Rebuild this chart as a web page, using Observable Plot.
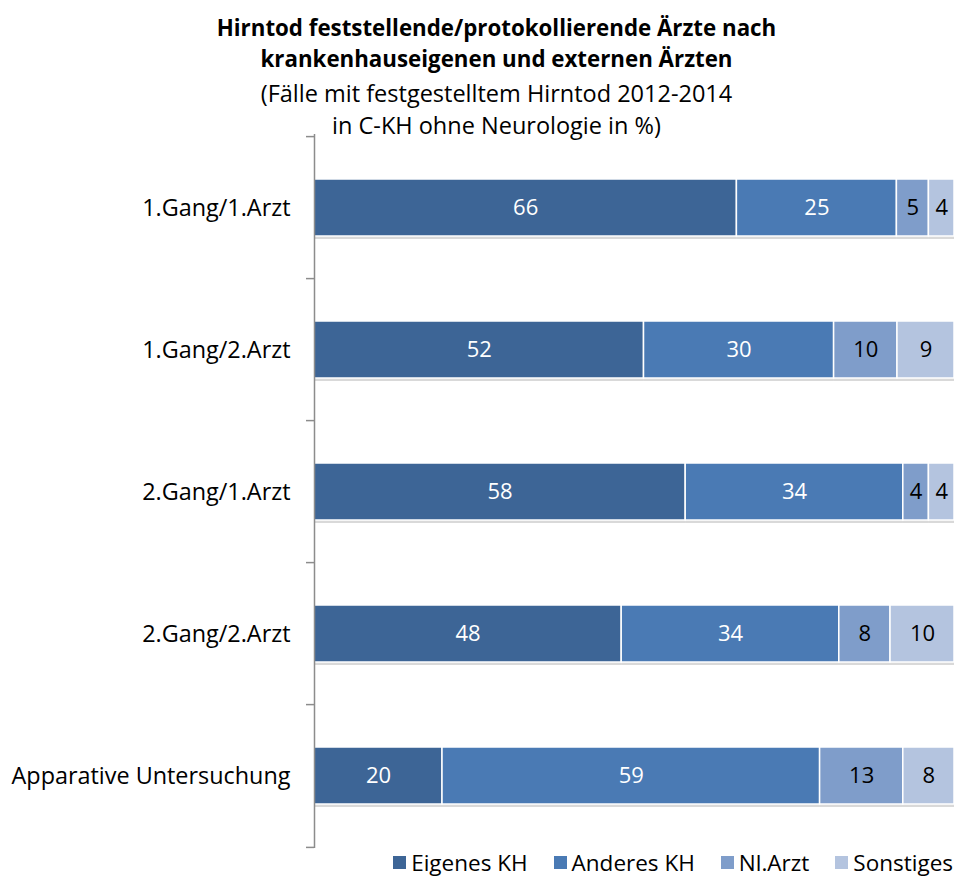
<!DOCTYPE html>
<html><head><meta charset="utf-8">
<script src="https://cdn.jsdelivr.net/npm/d3@7"></script>
<script src="https://cdn.jsdelivr.net/npm/@observablehq/plot@0.6"></script>
<style>
body{margin:0;width:955px;height:880px;overflow:hidden;background:#fff;font-family:"Open Sans",sans-serif;position:relative;color:#000}
#title{position:absolute;left:38px;width:917px;top:12px;text-align:center;font-weight:bold;font-size:22.3px;line-height:31px}
#subtitle{position:absolute;left:38px;width:917px;top:77px;text-align:center;font-size:23.5px;line-height:32px}
#chart{position:absolute;left:0;top:130px}
#legend{position:absolute;right:2px;top:849px;display:flex;align-items:center;font-size:22.5px;line-height:27px;white-space:nowrap}
#legend .item{display:flex;align-items:center;margin-left:26px}
#legend .sw{width:13px;height:13px;margin-right:5px}
</style></head><body>
<div id="title">Hirntod feststellende/protokollierende Ärzte nach<br>krankenhauseigenen und externen Ärzten</div>
<div id="subtitle">(Fälle mit festgestelltem Hirntod 2012-2014<br>in C-KH ohne Neurologie in %)</div>
<div id="chart"></div>
<div id="legend"></div>
<script>
const categories = ["1.Gang/1.Arzt", "1.Gang/2.Arzt", "2.Gang/1.Arzt", "2.Gang/2.Arzt", "Apparative Untersuchung"];
const series = ["Eigenes KH", "Anderes KH", "Nl.Arzt", "Sonstiges"];
const colors = ["#3D6596", "#4A7AB4", "#7F9DCA", "#B4C4DF"];
const eigenesKH = [66, 52, 58, 48, 20];
const anderesKH = [25, 30, 34, 34, 59];
const nlArzt = [5, 10, 4, 8, 13];
const sonstiges = [4, 9, 4, 10, 8];

const valuesBySeries = [eigenesKH, anderesKH, nlArzt, sonstiges];
const data = [];
categories.forEach((c, i) => {
  series.forEach((s, j) => data.push({cat: c, series: s, value: valuesBySeries[j][i], light: j >= 2}));
});

const W = 955, H = 722, mt = 4, mb = 4, ml = 314, mr = 1;
const step = (H - mt - mb) / categories.length;
const font = "'Open Sans', sans-serif";

const stackOpts = {x: "value", y: "cat", z: "series", offset: "normalize"};

const plot = Plot.plot({
  width: W, height: H,
  marginTop: mt, marginBottom: mb, marginLeft: ml, marginRight: mr,
  style: {fontFamily: font, fontSize: "22px", color: "#000", background: "transparent"},
  x: {domain: [0, 1], axis: null},
  y: {domain: categories, paddingInner: 0.6, paddingOuter: 0.3, label: null},
  color: {domain: series, range: colors},
  marks: [
    Plot.barX(data, Plot.stackX({...stackOpts, fill: "#808080", fillOpacity: 0.3, dy: 3})),
    Plot.barX(data, Plot.stackX({...stackOpts, fill: "series", stroke: "white", strokeWidth: 1.5})),
    Plot.text(data, Plot.stackX({...stackOpts, text: d => d.light ? "" : String(d.value), fill: "white", fontSize: 22})),
    Plot.text(data, Plot.stackX({...stackOpts, text: d => d.light ? String(d.value) : "", fill: "black", fontSize: 22})),
    Plot.ruleX([0], {stroke: "#8c8c8c", strokeWidth: 1.5}),
    Plot.ruleY(categories, {y: d => d, dy: -step / 2, x1: -0.0125, x2: 0, stroke: "#8c8c8c", strokeWidth: 1.5}),
    Plot.ruleY(categories.slice(-1), {y: d => d, dy: step / 2, x1: -0.0125, x2: 0, stroke: "#8c8c8c", strokeWidth: 1.5}),
    Plot.axisY({tickSize: 0, tickPadding: 24, fontSize: 23.4, label: null})
  ]
});
document.getElementById("chart").appendChild(plot);

const legend = document.getElementById("legend");
series.forEach((s, j) => {
  const item = document.createElement("div");
  item.className = "item";
  const sw = document.createElement("span");
  sw.className = "sw";
  sw.style.background = colors[j];
  const t = document.createElement("span");
  t.textContent = s;
  item.appendChild(sw); item.appendChild(t);
  legend.appendChild(item);
});
</script>
</body></html>
